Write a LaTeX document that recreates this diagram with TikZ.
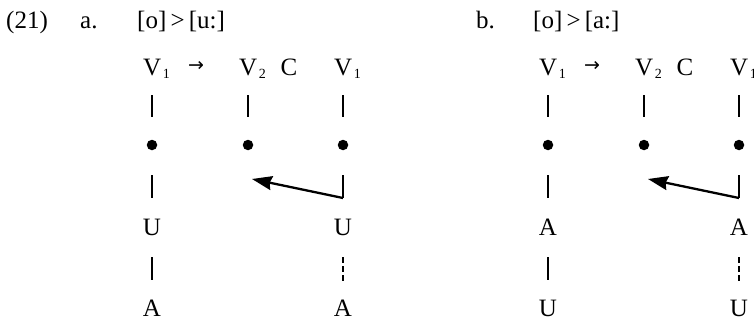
\documentclass[tikz,border=0pt]{standalone}
\usepackage{fontspec}
\setmainfont{Liberation Serif}
\newfontfamily\symf{DejaVu Sans}
\usetikzlibrary{arrows.meta}
\tikzset{
  txt/.style={inner sep=0pt, anchor=base, text depth=0pt, font=\fontsize{25}{30}\selectfont},
  bar/.style={line width=1.2pt},
  dashbar/.style={line width=1.2pt, dash pattern=on 6pt off 3pt},
  dotn/.style={circle, fill=black, inner sep=0pt, minimum size=10.5pt},
  spread/.style={line width=2.3pt, -{Stealth[length=20pt,width=14pt,inset=2pt]}},
}
\newcommand{\subv}[1]{V\kern1.5pt\raisebox{-3pt}{\fontsize{14}{14}\selectfont #1}}
% #1 prefix, #2 shift, #3 letter, #4 title, #5 middle label, #6 bottom label
\newcommand{\panelx}[6]{%
\begin{scope}[xshift=#2]
  \node[txt, anchor=base west] (#1-lab) at (80,29) {#3};
  \node[txt, anchor=base west] (#1-title) at (137,29) {#4};
  \node[txt, anchor=base west] (#1-va) at (143,75) {\subv{1}};
  \node[txt, anchor=center, font=\symf\fontsize{19}{19}\selectfont] (#1-arr) at (196,66) {→};
  \node[txt, anchor=base west] (#1-vb) at (239,75) {\subv{2}};
  \node[txt] (#1-c) at (289,75) {C};
  \node[txt, anchor=base west] (#1-vc) at (334,75) {\subv{1}};
  % top bars
  \coordinate (#1-t1a) at (152,95);  \coordinate (#1-t1b) at (152,117);
  \coordinate (#1-t2a) at (248,95); \coordinate (#1-t2b) at (248,117);
  \coordinate (#1-t3a) at (343,95);  \coordinate (#1-t3b) at (343,117);
  \draw[bar] (#1-t1a) -- (#1-t1b);
  \draw[bar] (#1-t2a) -- (#1-t2b);
  \draw[bar] (#1-t3a) -- (#1-t3b);
  % dots
  \node[dotn] (#1-d1) at (152,145) {};
  \node[dotn] (#1-d2) at (248,145) {};
  \node[dotn] (#1-d3) at (343,145) {};
  % lower bar left
  \coordinate (#1-m1a) at (152,175); \coordinate (#1-m1b) at (152,198);
  \draw[bar] (#1-m1a) -- (#1-m1b);
  % spreading arrow
  \coordinate (#1-m3a) at (343,175); \coordinate (#1-m3b) at (343,198);
  \coordinate (#1-tip) at (252,179);
  \draw[bar] (#1-m3a) -- (#1-m3b);
  \draw[spread] (#1-m3b) -- (#1-tip);
  % middle labels
  \node[txt] (#1-u1) at (152,235) {#5};
  \node[txt] (#1-u3) at (343,235) {#5};
  \coordinate (#1-l1a) at (152,257); \coordinate (#1-l1b) at (152,280);
  \coordinate (#1-l3a) at (343,257); \coordinate (#1-l3b) at (343,282);
  \draw[bar] (#1-l1a) -- (#1-l1b);
  \draw[dashbar] (#1-l3a) -- (#1-l3b);
  \node[txt] (#1-a1) at (152,316) {#6};
  \node[txt] (#1-a3) at (343,316) {#6};
\end{scope}}
\begin{document}
\begin{tikzpicture}[x=1pt,y=-1pt]
  \useasboundingbox (0,0) rectangle (754,321);
  \node[txt, anchor=base west] (num) at (6,29) {(21)};
  \panelx{a}{0pt}{a.}{[o]\,>\,[u:]}{U}{A}
  \panelx{b}{396pt}{b.}{[o]\,>\,[a:]}{A}{U}
\end{tikzpicture}
\end{document}
